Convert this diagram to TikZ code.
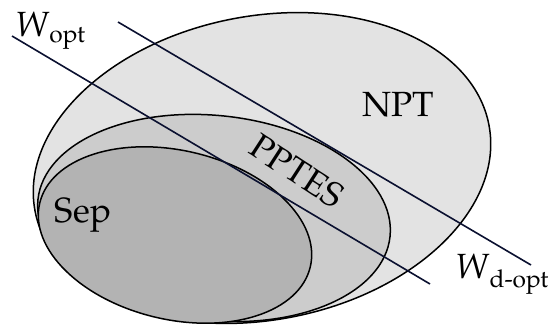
\documentclass[tikz,border=0pt]{standalone}
\usepackage{fontspec}
\setmainfont{TeX Gyre Pagella}
\definecolor{npt}{HTML}{E3E3E3}
\definecolor{ppt}{HTML}{CCCCCC}
\definecolor{sep}{HTML}{B3B3B3}
\definecolor{wline}{HTML}{0A1030}
\tikzset{
  setshape/.style={draw=black, line width=1.5pt},
  witness/.style={draw=wline, line width=1.6pt},
  lab/.style={inner sep=0pt, font=\fontsize{35}{40}\selectfont},
}
\begin{document}
\begin{tikzpicture}[x=1pt,y=-1pt]
\useasboundingbox (0,0) rectangle (550,327);
% sets
\path[setshape, fill=npt, rotate around={10.7:(262,168)}] (262,168) ellipse [x radius=231pt, y radius=152pt];
\path[setshape, fill=ppt, rotate around={-6:(214,218)}] (214,218) ellipse [x radius=177pt, y radius=102.5pt];
\path[setshape, fill=sep, rotate around={-13.2:(175,235)}] (175,235) ellipse [x radius=139pt, y radius=84.5pt];
% witnesses
\coordinate (wo1) at (12,36);
\coordinate (wo2) at (430,284);
\coordinate (wd1) at (118,22);
\coordinate (wd2) at (531,265);
\draw[witness] (wo1) -- (wo2);
\draw[witness] (wd1) -- (wd2);
% labels
\node[lab] (npt) at (398,105) {NPT};
\node[lab] (sepl) at (83,215) {Sep};
\node[lab, rotate=-33] (pptes) at (297,171) {PPTES};
\node[lab, anchor=base west] (wopt) at (15,36) {\textit{W}\textsubscript{opt}};
\node[lab, anchor=base east] (wdopt) at (549,278) {\textit{W}\textsubscript{d-opt}};
\end{tikzpicture}
\end{document}
